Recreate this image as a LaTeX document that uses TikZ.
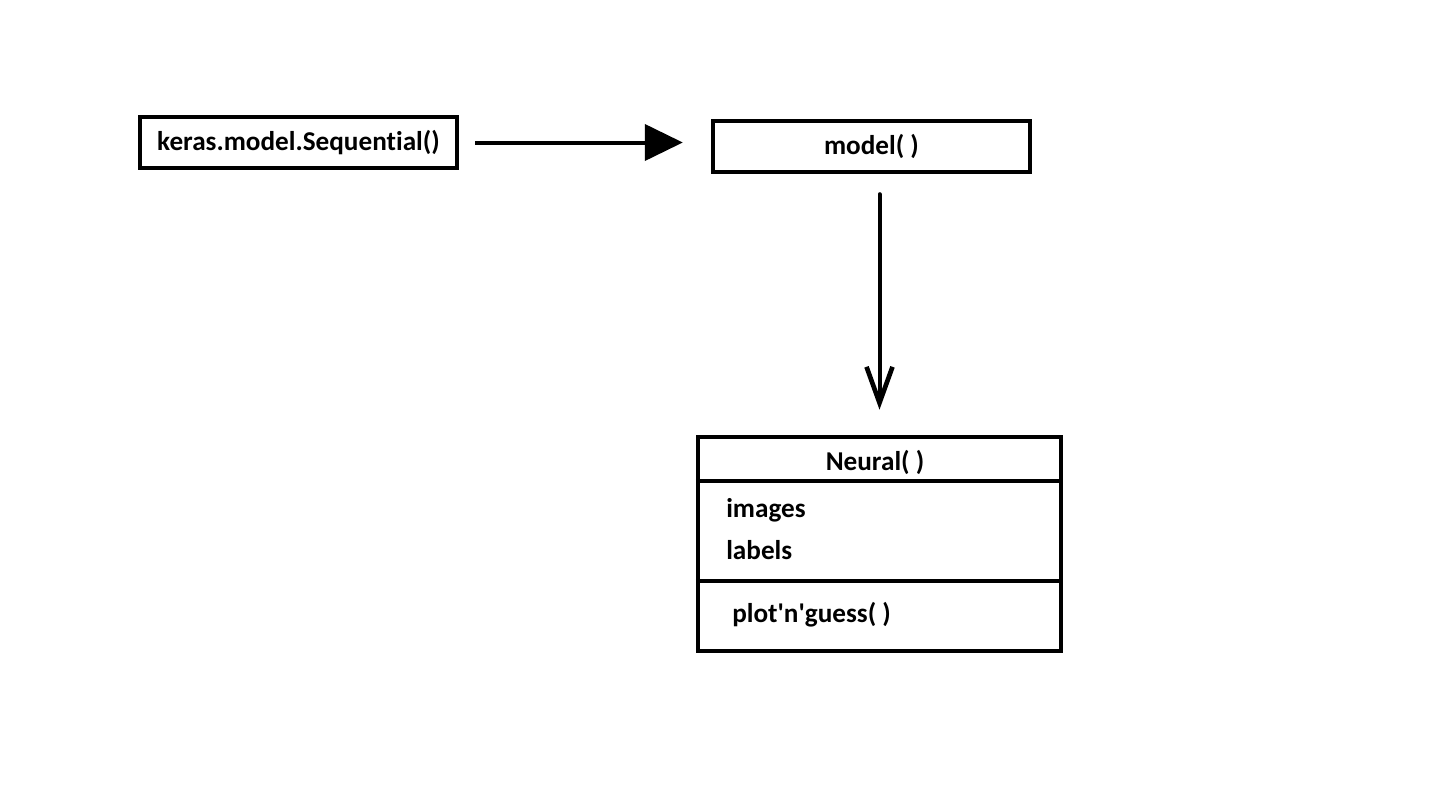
\documentclass[tikz,border=0pt]{standalone}
\usepackage{fontspec}
\setmainfont{Carlito}[Ligatures={NoCommon}]
\usetikzlibrary{arrows.meta}
\begin{document}
\begin{tikzpicture}[x=0.75pt,y=-0.75pt,
  box/.style={draw,line width=3pt,inner sep=0pt,font=\fontsize{20.4}{24}\selectfont\bfseries},
  lbl/.style={inner sep=0pt,anchor=west,font=\fontsize{20.4}{24}\selectfont\bfseries},
  conn/.style={line width=3pt}]
\useasboundingbox (0,0) rectangle (1450,793);
\node[box,minimum width=238pt,minimum height=38.5pt] (b1) at (298.5,142.5) {keras.model.Sequential()};
\node[box,minimum width=238pt,minimum height=38.5pt] (b2) at (871.5,146.5) {model( )};
\node[box,minimum width=272.5pt,minimum height=160.5pt] (b3) at (879.5,544) {};
\coordinate (d1w) at (698,481); \coordinate (d1e) at (1061,481);
\coordinate (d2w) at (698,581); \coordinate (d2e) at (1061,581);
\draw[line width=3pt] (d1w -| b3.west) -- (d1e -| b3.east);
\draw[line width=3pt] (d2w -| b3.west) -- (d2e -| b3.east);
\node[inner sep=0pt,font=\fontsize{20.4}{24}\selectfont\bfseries] (t1) at (875,462) {Neural( )};
\node[lbl] (t2) at (726,510) {images};
\node[lbl] (t3) at (726,550) {labels};
\node[lbl] (t4) at (732,615) {plot\textquotesingle n\textquotesingle guess( )};
\draw[conn,-{Triangle[length=28.5pt,width=27pt]},shorten <=12pt,shorten >=21pt] (b1.east |- b1.center) -- (b2.west |- b1.center);
\draw[conn,-{Straight Barb[length=27pt,width=19.5pt,line width=3.5pt]},shorten <=15pt,shorten >=19pt,line cap=round] (b2.south -| b3.north) -- (b3.north);
\end{tikzpicture}
\end{document}
